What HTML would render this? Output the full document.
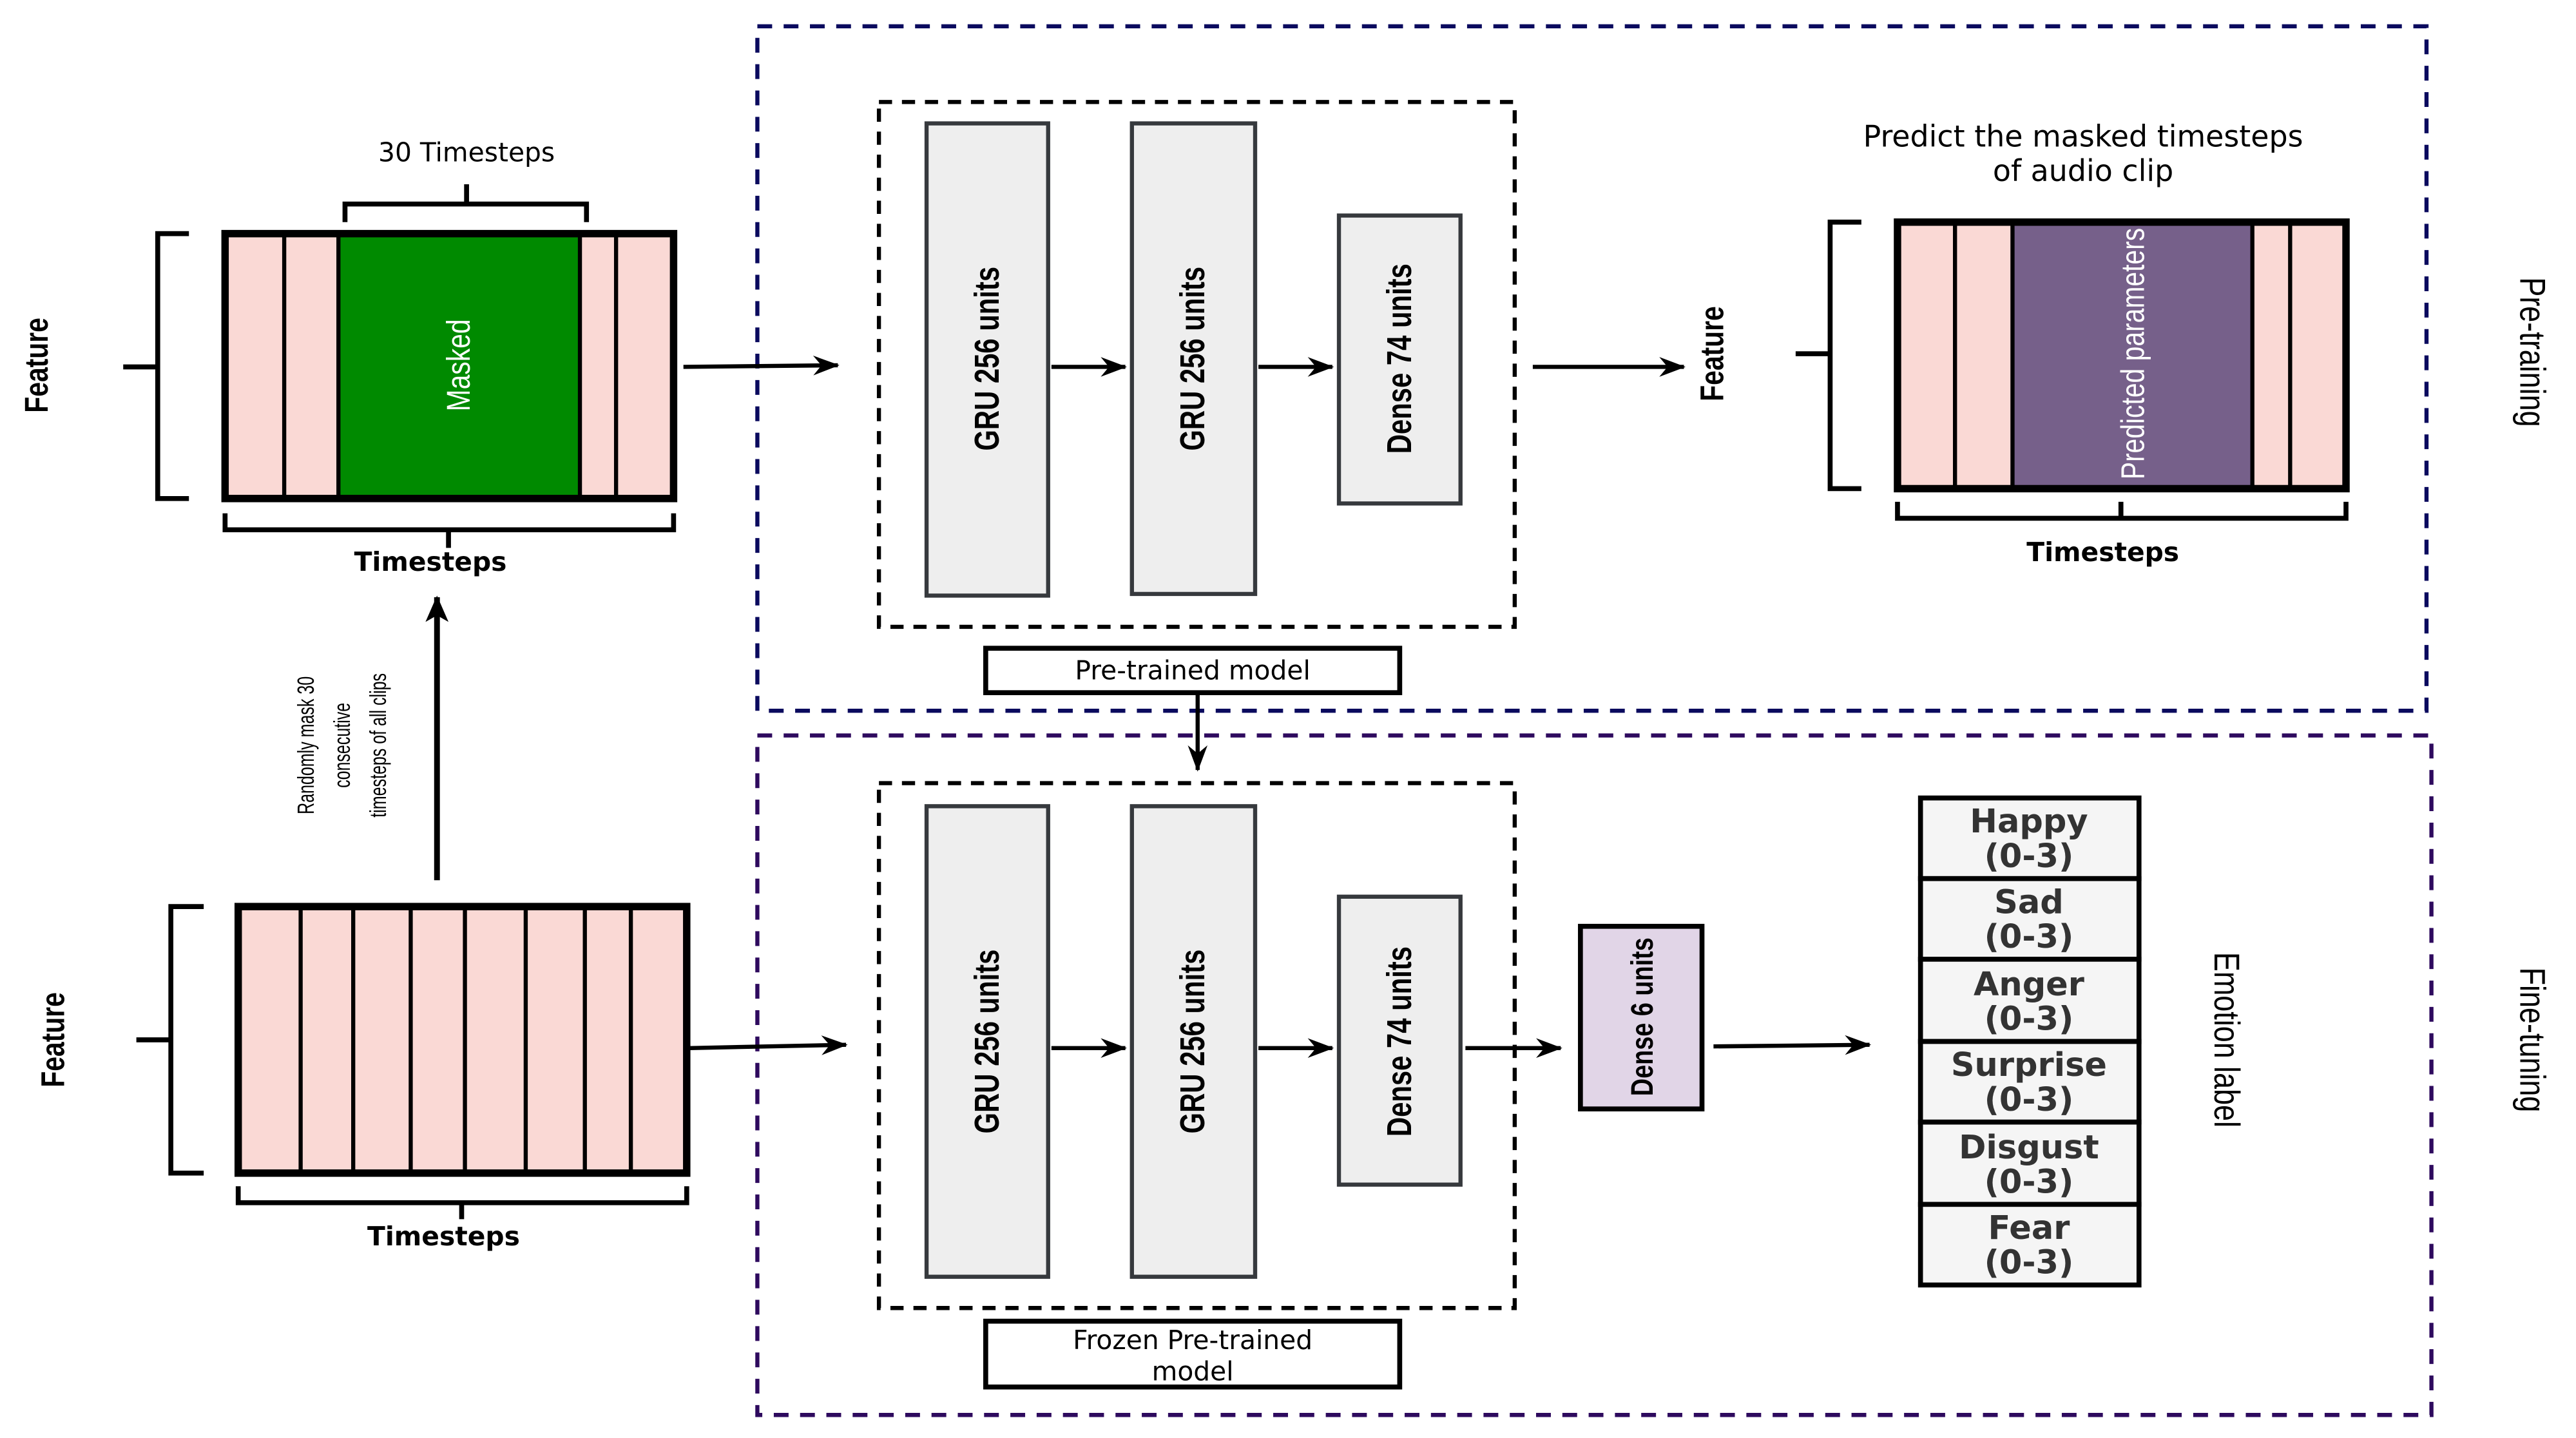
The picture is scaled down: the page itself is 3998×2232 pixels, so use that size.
<!DOCTYPE html>
<html><head><meta charset="utf-8"><style>
html,body{margin:0;padding:0;background:#fff;}
svg{display:block;}
text{font-family:"Liberation Sans","DejaVu Sans",sans-serif;}
.dj{font-family:"DejaVu Sans","Liberation Sans",sans-serif;}
</style></head><body>
<svg width="3998" height="2232" viewBox="0 0 1568 874" preserveAspectRatio="none" xmlns="http://www.w3.org/2000/svg">
<defs>
<marker id="ar" markerWidth="16" markerHeight="12" refX="15" refY="6" orient="auto" markerUnits="userSpaceOnUse">
<path d="M0,0 L16,6 L0,12 L5,6 Z" fill="#000"/>
</marker>
<marker id="ar2" markerWidth="16" markerHeight="14" refX="15" refY="7" orient="auto" markerUnits="userSpaceOnUse">
<path d="M0,0 L16,7 L0,14 L4,7 Z" fill="#000"/>
</marker>
</defs>
<rect x="461" y="16" width="1016" height="416" fill="none" stroke="#0a0a5e" stroke-width="2.5" stroke-dasharray="9,7"/>
<rect x="461" y="447" width="1019" height="413" fill="none" stroke="#2e0a5e" stroke-width="2.5" stroke-dasharray="9,7"/>
<rect x="535" y="62" width="387" height="319" fill="none" stroke="#000" stroke-width="2.5" stroke-dasharray="8,6"/>
<rect x="535" y="476" width="387" height="319" fill="none" stroke="#000" stroke-width="2.5" stroke-dasharray="8,6"/>

<g stroke="#36393d" stroke-width="2.5" fill="#eeeeee">
<rect x="564" y="75" width="74" height="287"/>
<rect x="689" y="75" width="75" height="286"/>
<rect x="815" y="131" width="74" height="175"/>
<rect x="564" y="490" width="74" height="286"/>
<rect x="689" y="490" width="75" height="286"/>
<rect x="815" y="545" width="74" height="175"/>
</g>
<g font-weight="bold" font-size="21" fill="#000" text-anchor="middle">
<text transform="translate(601,218) rotate(-90) scale(0.78,1)" dy="7">GRU 256 units</text>
<text transform="translate(726,218) rotate(-90) scale(0.78,1)" dy="7">GRU 256 units</text>
<text transform="translate(852,218) rotate(-90) scale(0.78,1)" dy="7">Dense 74 units</text>
<text transform="translate(601,633) rotate(-90) scale(0.78,1)" dy="7">GRU 256 units</text>
<text transform="translate(726,633) rotate(-90) scale(0.78,1)" dy="7">GRU 256 units</text>
<text transform="translate(852,633) rotate(-90) scale(0.78,1)" dy="7">Dense 74 units</text>
</g>
<rect x="600" y="394" width="252" height="27" fill="#fff" stroke="#000" stroke-width="3"/>
<text class="dj" x="726" y="413" font-size="16" text-anchor="middle">Pre-trained model</text>
<rect x="600" y="803" width="252" height="40" fill="#fff" stroke="#000" stroke-width="3"/>
<text class="dj" x="726" y="820" font-size="16" text-anchor="middle">Frozen Pre-trained</text>
<text class="dj" x="726" y="839" font-size="16" text-anchor="middle">model</text>

<g stroke="#000" stroke-width="2.5" fill="none">
<line x1="640" y1="223" x2="685" y2="223" marker-end="url(#ar)"/>
<line x1="766" y1="223" x2="811" y2="223" marker-end="url(#ar)"/>
<line x1="640" y1="637" x2="685" y2="637" marker-end="url(#ar)"/>
<line x1="766" y1="637" x2="811" y2="637" marker-end="url(#ar)"/>
<line x1="416" y1="223" x2="510" y2="222" marker-end="url(#ar)"/>
<line x1="933" y1="223" x2="1025" y2="223" marker-end="url(#ar)"/>
<line x1="420" y1="637" x2="515" y2="635" marker-end="url(#ar)"/>
<line x1="892" y1="637" x2="950" y2="637" marker-end="url(#ar)"/>
<line x1="1043" y1="636" x2="1138" y2="635" marker-end="url(#ar)"/>
<line x1="729" y1="421" x2="729" y2="468" marker-end="url(#ar)"/>
<line x1="266" y1="535" x2="266" y2="363" stroke-width="3.5" marker-end="url(#ar2)"/>
</g>

<rect x="962" y="563" width="74" height="111" fill="#e1d5e7" stroke="#000" stroke-width="3"/>
<text transform="translate(999,618) rotate(-90) scale(0.78,1)" dy="7" font-weight="bold" font-size="19" text-anchor="middle">Dense 6 units</text>

<g stroke="#000" stroke-width="3" fill="#f5f5f5">
<rect x="1169" y="485" width="133" height="49"/>
<rect x="1169" y="534" width="133" height="49"/>
<rect x="1169" y="583" width="133" height="50"/>
<rect x="1169" y="633" width="133" height="49"/>
<rect x="1169" y="682" width="133" height="50"/>
<rect x="1169" y="732" width="133" height="49"/>
</g>
<g class="dj" font-weight="bold" font-size="20" fill="#333" text-anchor="middle">
<text class="dj" x="1235" y="506">Happy</text><text class="dj" x="1235" y="527">(0-3)</text>
<text class="dj" x="1235" y="555">Sad</text><text class="dj" x="1235" y="576">(0-3)</text>
<text class="dj" x="1235" y="605">Anger</text><text class="dj" x="1235" y="626">(0-3)</text>
<text class="dj" x="1235" y="654">Surprise</text><text class="dj" x="1235" y="675">(0-3)</text>
<text class="dj" x="1235" y="704">Disgust</text><text class="dj" x="1235" y="725">(0-3)</text>
<text class="dj" x="1235" y="753">Fear</text><text class="dj" x="1235" y="774">(0-3)</text>
</g>
<text transform="translate(1355,632) rotate(90) scale(0.8,1)" dy="7" font-size="22" text-anchor="middle">Emotion label</text>
<text transform="translate(1541,214) rotate(90) scale(0.8,1)" dy="7" font-size="22" text-anchor="middle">Pre-training</text>
<text transform="translate(1541,632) rotate(90) scale(0.8,1)" dy="7" font-size="22" text-anchor="middle">Fine-tuning</text>

<rect x="137" y="142" width="273" height="161" fill="#fad9d5"/>
<rect x="206" y="142" width="147" height="161" fill="#008a00"/>
<g stroke="#000" stroke-width="2.5">
<line x1="173" y1="142" x2="173" y2="303"/>
<line x1="206" y1="142" x2="206" y2="303"/>
<line x1="353" y1="142" x2="353" y2="303"/>
<line x1="375" y1="142" x2="375" y2="303"/>
</g>
<rect x="137" y="142" width="273" height="161" fill="none" stroke="#000" stroke-width="4.5"/>
<text transform="translate(279,222) rotate(-90) scale(0.8,1)" dy="7" font-size="20" fill="#fff" text-anchor="middle">Masked</text>
<g stroke="#000" stroke-width="3" fill="none">
<polyline points="115,142 96,142 96,303 115,303"/><line x1="75" y1="223" x2="96" y2="223"/>
<polyline points="210,135 210,124 357,124 357,135"/><line x1="284" y1="124" x2="284" y2="112"/>
<polyline points="137,312 137,322 410,322 410,312"/><line x1="273" y1="322" x2="273" y2="333"/>
</g>
<text class="dj" x="284" y="98" font-size="16" text-anchor="middle">30 Timesteps</text>
<text class="dj" x="262" y="347" font-size="16" font-weight="bold" text-anchor="middle">Timesteps</text>
<text transform="translate(22,222) rotate(-90) scale(0.8,1)" dy="7" font-size="20" font-weight="bold" text-anchor="middle">Feature</text>

<rect x="1155" y="135" width="273" height="162" fill="#fad9d5"/>
<rect x="1225" y="135" width="146" height="162" fill="#76608a"/>
<g stroke="#000" stroke-width="2.5">
<line x1="1190" y1="135" x2="1190" y2="297"/>
<line x1="1225" y1="135" x2="1225" y2="297"/>
<line x1="1371" y1="135" x2="1371" y2="297"/>
<line x1="1394" y1="135" x2="1394" y2="297"/>
</g>
<rect x="1155" y="135" width="273" height="162" fill="none" stroke="#000" stroke-width="4.5"/>
<text transform="translate(1298,215) rotate(-90) scale(0.8,1)" dy="7" font-size="20" fill="#fff" text-anchor="middle">Predicted parameters</text>
<g stroke="#000" stroke-width="3" fill="none">
<polyline points="1133,135 1114,135 1114,297 1133,297"/><line x1="1093" y1="215" x2="1114" y2="215"/>
<polyline points="1155,305 1155,315 1428,315 1428,305"/><line x1="1291" y1="315" x2="1291" y2="305"/>
</g>
<text class="dj" x="1280" y="341" font-size="16" font-weight="bold" text-anchor="middle">Timesteps</text>
<text transform="translate(1042,215) rotate(-90) scale(0.8,1)" dy="7" font-size="20" font-weight="bold" text-anchor="middle">Feature</text>
<text class="dj" x="1268" y="89" font-size="18" text-anchor="middle">Predict the masked timesteps</text>
<text class="dj" x="1268" y="110" font-size="18" text-anchor="middle">of audio clip</text>

<rect x="145" y="551" width="273" height="162" fill="#fad9d5"/>
<g stroke="#000" stroke-width="2.5">
<line x1="183" y1="551" x2="183" y2="713"/>
<line x1="215" y1="551" x2="215" y2="713"/>
<line x1="250" y1="551" x2="250" y2="713"/>
<line x1="283" y1="551" x2="283" y2="713"/>
<line x1="320" y1="551" x2="320" y2="713"/>
<line x1="356" y1="551" x2="356" y2="713"/>
<line x1="384" y1="551" x2="384" y2="713"/>
</g>
<rect x="145" y="551" width="273" height="162" fill="none" stroke="#000" stroke-width="4.5"/>
<g stroke="#000" stroke-width="3" fill="none">
<polyline points="124,551 104,551 104,713 124,713"/><line x1="83" y1="632" x2="104" y2="632"/>
<polyline points="145,721 145,731 418,731 418,721"/><line x1="281" y1="731" x2="281" y2="741"/>
</g>
<text class="dj" x="270" y="757" font-size="16" font-weight="bold" text-anchor="middle">Timesteps</text>
<text transform="translate(32,632) rotate(-90) scale(0.8,1)" dy="7" font-size="20" font-weight="bold" text-anchor="middle">Feature</text>

<g font-size="14" text-anchor="middle">
<text transform="translate(186,453) rotate(-90) scale(0.7,1)" dy="5">Randomly mask 30</text>
<text transform="translate(208,453) rotate(-90) scale(0.7,1)" dy="5">consecutive</text>
<text transform="translate(230,453) rotate(-90) scale(0.7,1)" dy="5">timesteps of all clips</text>
</g>
</svg>
</body></html>
